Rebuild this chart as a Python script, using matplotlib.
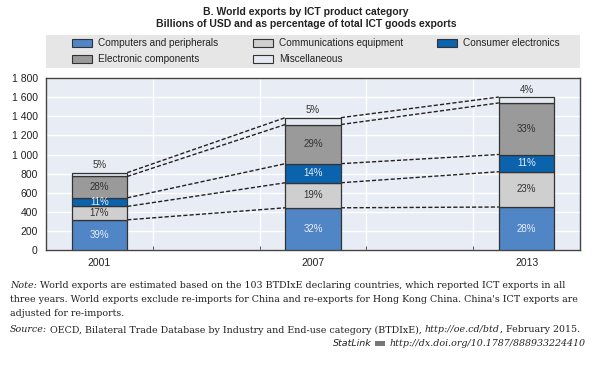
import matplotlib
matplotlib.use("Agg")
import matplotlib.pyplot as plt
import numpy as np
from matplotlib.patches import Rectangle
from matplotlib.ticker import FuncFormatter

# Exportations mondiales par catégorie TIC (milliards USD)
years = ['2001', '2007', '2013']
categories = ['Computers and peripherals', 'Communications equipment', 'Consumer electronics',
              'Electronic components', 'Miscellaneous']
computers = [316, 442, 450]
communications = [140, 262, 370]
consumer = [90, 200, 180]
components = [224, 410, 540]
misc = [40, 72, 62]
pct_labels = [
    ['39%', '32%', '28%'],
    ['17%', '19%', '23%'],
    ['11%', '14%', '11%'],
    ['28%', '29%', '33%'],
    ['5%', '5%', '4%'],
]

colors = ['#5085c6', '#cfcfcf', '#0b62ad', '#9a9a9a', '#e4e9f2']
text_colors = ['#e8eef8', '#333333', '#e8eef8', '#333333', '#333333']

plt.rcParams['font.family'] = ['Liberation Sans', 'DejaVu Sans']

fig = plt.figure(figsize=(6.0, 3.68), dpi=100)
ax = fig.add_axes([0.0767, 0.3207, 0.89, 0.467])
ax.set_facecolor('#e8edf5')

series = [computers, communications, consumer, components, misc]
xpos = np.array([0, 2, 4])
w = 0.52
bottom = np.zeros(3)
tops = []
for k, vals in enumerate(series):
    vals = np.array(vals, dtype=float)
    ax.bar(xpos, vals, w, bottom=bottom, color=colors[k], edgecolor='#333333', linewidth=0.9, zorder=3)
    for j in range(3):
        if k < 4:
            ax.text(xpos[j], bottom[j] + vals[j] / 2, pct_labels[k][j], ha='center', va='center',
                    fontsize=7, color=text_colors[k], zorder=4)
        else:
            ax.text(xpos[j], bottom[j] + vals[j] + 25, pct_labels[k][j], ha='center', va='bottom',
                    fontsize=7, color='#333333', zorder=4)
    bottom = bottom + vals
    tops.append(bottom.copy())

# lignes pointillées reliant les barres
for t in tops:
    for j in range(2):
        ax.plot([xpos[j] + w / 2, xpos[j + 1] - w / 2], [t[j], t[j + 1]],
                ls=(0, (3, 1.5)), color='#222222', lw=1.0, zorder=2)

ax.set_xlim(-0.5, 4.5)
ax.set_ylim(0, 1800)
ax.set_yticks(np.arange(0, 1801, 200))
ax.yaxis.set_major_formatter(FuncFormatter(lambda v, p: f'{int(v):,}'.replace(',', ' ')))
ax.set_xticks(xpos)
ax.set_xticklabels(years)
ax.set_xticks([0.5, 1.5, 2.5, 3.5], minor=True)
ax.tick_params(axis='x', which='major', length=0, pad=6, labelsize=7.5, colors='#222222')
ax.tick_params(axis='x', which='minor', direction='in', length=3, color='#333333')
ax.tick_params(axis='y', length=0, pad=6, labelsize=7.5, colors='#222222')
ax.grid(True, axis='y', color='white', lw=1.0, zorder=0)
ax.grid(True, axis='x', which='minor', color='white', lw=1.0, zorder=0)
for s in ax.spines.values():
    s.set_color('#444444')
    s.set_linewidth(1.0)

# titre
fig.text(0.51, 1 - 12 / 368, 'B. World exports by ICT product category', ha='center', va='center',
         fontsize=7.5, fontweight='bold', color='#222222')
fig.text(0.51, 1 - 24 / 368, 'Billions of USD and as percentage of total ICT goods exports', ha='center',
         va='center', fontsize=7.5, fontweight='bold', color='#222222')

# légende
fig.patches.append(Rectangle((0.0767, 1 - 68 / 368), 0.89, 33 / 368, transform=fig.transFigure,
                             facecolor='#e6e6e6', edgecolor='none'))
leg_pos = [(72, 43), (253, 43), (437, 43), (72, 59), (253, 59)]
for k, (px, py) in enumerate(leg_pos):
    fig.patches.append(Rectangle((px / 600, 1 - (py + 4) / 368), 20 / 600, 8 / 368,
                                 transform=fig.transFigure, facecolor=colors[k],
                                 edgecolor='#333333', linewidth=0.8))
    fig.text((px + 26) / 600, 1 - py / 368, categories[k], ha='left', va='center',
             fontsize=7.2, color='#222222')

# notes (texte en plusieurs styles)
serif = ['DejaVu Serif']
fs = 6.8
renderer = fig.canvas.get_renderer()


def runs(x, y, parts):
    # parts: liste de (texte, style)
    for txt, st in parts:
        t = fig.text(x, y, txt, style=st, family=serif, fontsize=fs, va='center', color='#222222')
        bb = t.get_window_extent(renderer)
        x = x + bb.width / fig.bbox.width
    return x


x0 = 10 / 600
runs(x0, 1 - 286 / 368, [('Note:', 'italic'),
                         (' World exports are estimated based on the 103 BTDIxE declaring countries, which reported ICT exports in all', 'normal')])
runs(x0, 1 - 300 / 368, [("three years. World exports exclude re-imports for China and re-exports for Hong Kong China. China's ICT exports are", 'normal')])
runs(x0, 1 - 314 / 368, [('adjusted for re-imports.', 'normal')])
runs(x0, 1 - 330 / 368, [('Source:', 'italic'),
                         (' OECD, Bilateral Trade Database by Industry and End-use category (BTDIxE), ', 'normal'),
                         ('http://oe.cd/btd', 'italic'),
                         (', February 2015.', 'normal')])
url = fig.text(586 / 600, 1 - 344 / 368, 'http://dx.doi.org/10.1787/888933224410', ha='right', va='center',
               style='italic', family=serif, fontsize=fs, color='#222222')
ub = url.get_window_extent(renderer)
ux = ub.x0 / fig.bbox.width
fig.patches.append(Rectangle((ux - 15 / 600, 1 - 346 / 368), 10 / 600, 5 / 368, transform=fig.transFigure,
                             facecolor='#777777', edgecolor='none'))
fig.text(ux - 18 / 600, 1 - 344 / 368, 'StatLink', ha='right', va='center', style='italic',
         family=['DejaVu Sans'], fontsize=6.8, color='#222222')

fig.savefig('out.png', dpi=100)
